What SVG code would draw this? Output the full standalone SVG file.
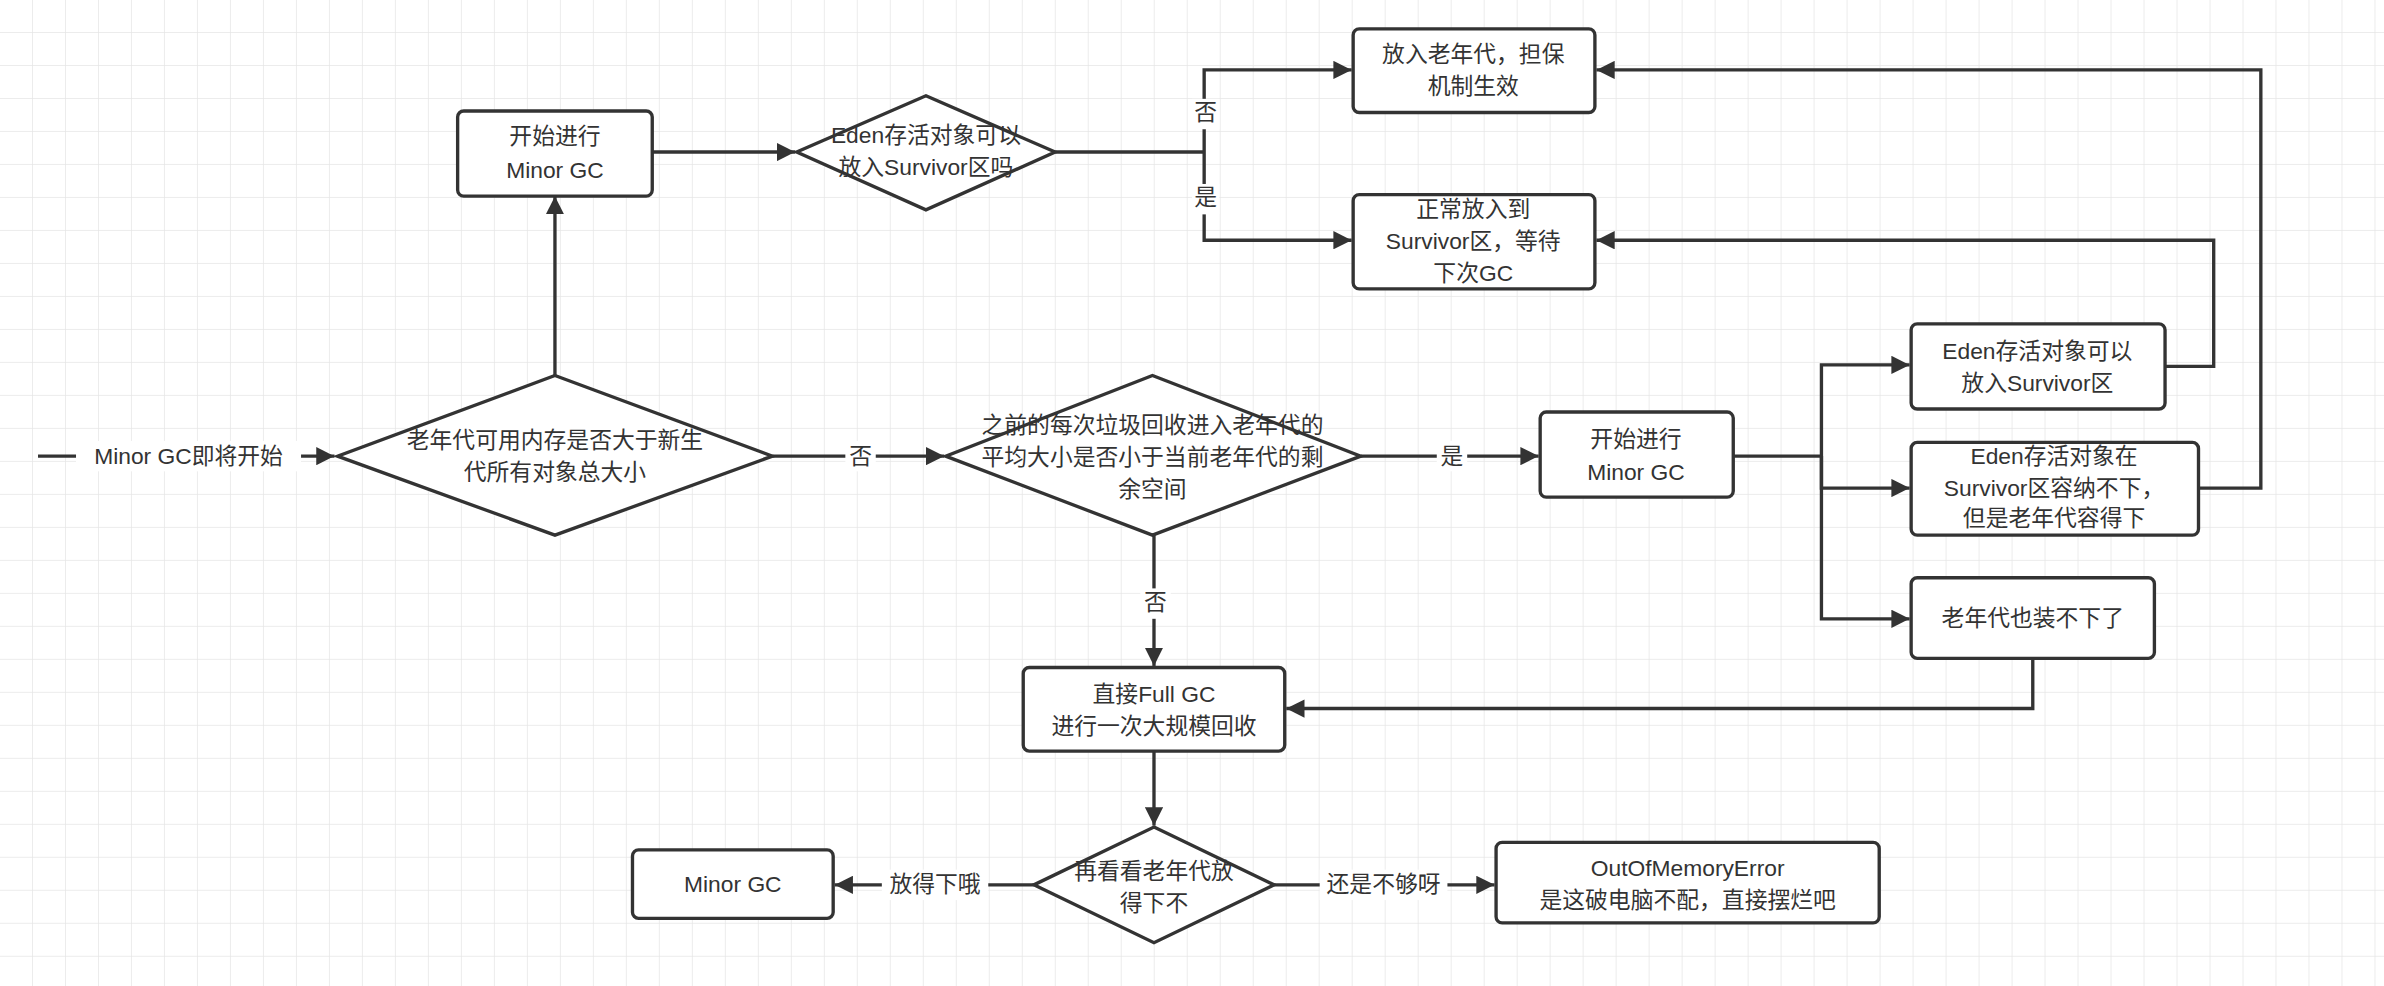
<svg xmlns="http://www.w3.org/2000/svg" width="2384" height="986" viewBox="0 0 2384 986">
<style>
.n{fill:#fff;stroke:#333;stroke-width:2.2}
.c{fill:none;stroke:#333;stroke-width:2.2}
text{font-family:"Liberation Sans","Noto Sans CJK SC",sans-serif;font-size:15px;fill:#333;text-anchor:middle;dominant-baseline:middle}
.lb{fill:#fff}
</style>
<defs>
<pattern id="g" width="21.7" height="21.7" patternUnits="userSpaceOnUse"><path d="M21.7 0V21.7H0" fill="none" stroke="#e6e6e6" stroke-width="1"/></pattern>
<marker id="a" viewBox="0 0 10 10" refX="10" refY="5" markerWidth="12" markerHeight="12" markerUnits="userSpaceOnUse" orient="auto"><path d="M0 0L10 5L0 10z" fill="#333"/></marker>
</defs>
<rect width="2384" height="986" fill="#fff"/>
<g transform="scale(1.5204)">
<rect width="1568" height="649" fill="url(#g)"/>
<g id="connectors">
<path class="c" d="M25 300H220" marker-end="url(#a)"/>
<path class="c" d="M365 247V129" marker-end="url(#a)"/>
<path class="c" d="M429 100H523" marker-end="url(#a)"/>
<path class="c" d="M694 100H792"/>
<path class="c" d="M792 100V46H889" marker-end="url(#a)"/>
<path class="c" d="M792 100V158H889" marker-end="url(#a)"/>
<path class="c" d="M508 300H621" marker-end="url(#a)"/>
<path class="c" d="M895 300H1012" marker-end="url(#a)"/>
<path class="c" d="M1140 300H1198"/>
<path class="c" d="M1198 300V240H1256" marker-end="url(#a)"/>
<path class="c" d="M1198 300V321H1256" marker-end="url(#a)"/>
<path class="c" d="M1198 300V407H1256" marker-end="url(#a)"/>
<path class="c" d="M1424 241H1456V158H1050" marker-end="url(#a)"/>
<path class="c" d="M1446 321H1487V46H1050" marker-end="url(#a)"/>
<path class="c" d="M1337 433V466H846" marker-end="url(#a)"/>
<path class="c" d="M759 352V438" marker-end="url(#a)"/>
<path class="c" d="M759 494V543" marker-end="url(#a)"/>
<path class="c" d="M680 582H549" marker-end="url(#a)"/>
<path class="c" d="M838 582H983" marker-end="url(#a)"/>
<rect class="lb" x="50" y="290" width="148" height="20"/><text x="124" y="301">Minor GC即将开始</text>
<rect class="lb" x="556" y="290" width="20" height="20"/><text x="566" y="301">否</text>
<rect class="lb" x="945" y="290" width="20" height="20"/><text x="955" y="301">是</text>
<rect class="lb" x="784" y="65" width="18" height="20"/><text x="793" y="75">否</text>
<rect class="lb" x="784" y="121" width="18" height="20"/><text x="793" y="131">是</text>
<rect class="lb" x="750" y="387" width="20" height="20"/><text x="760" y="397">否</text>
<rect class="lb" x="580" y="572" width="70" height="20"/><text x="615" y="583">放得下哦</text>
<rect class="lb" x="868" y="572" width="84" height="20"/><text x="910" y="583">还是不够呀</text>
</g>
<g id="d1"><path class="n" d="M365 247L508 300L365 352L222 300z"/><text x="365" y="291">老年代可用内存是否大于新生</text><text x="365" y="312">代所有对象总大小</text></g>
<g id="b1"><rect class="n" x="301" y="73" width="128" height="56" rx="4"/><text x="365" y="91">开始进行</text><text x="365" y="113">Minor GC</text></g>
<g id="d2"><path class="n" d="M609 63L694 100L609 138L524 100z"/><text x="609" y="90">Eden存活对象可以</text><text x="609" y="111">放入Survivor区吗</text></g>
<g id="b2"><rect class="n" x="890" y="19" width="159" height="55" rx="4"/><text x="969" y="37">放入老年代，担保</text><text x="969" y="58">机制生效</text></g>
<g id="b3"><rect class="n" x="890" y="128" width="159" height="62" rx="4"/><text x="969" y="139">正常放入到</text><text x="969" y="160">Survivor区，等待</text><text x="969" y="181">下次GC</text></g>
<g id="d3"><path class="n" d="M758 247L895 300L758 352L622 300z"/><text x="758" y="281">之前的每次垃圾回收进入老年代的</text><text x="758" y="302">平均大小是否小于当前老年代的剩</text><text x="758" y="323">余空间</text></g>
<g id="b4"><rect class="n" x="1013" y="271" width="127" height="56" rx="4"/><text x="1076" y="290">开始进行</text><text x="1076" y="312">Minor GC</text></g>
<g id="b5"><rect class="n" x="1257" y="213" width="167" height="56" rx="4"/><text x="1340" y="232">Eden存活对象可以</text><text x="1340" y="253">放入Survivor区</text></g>
<g id="b6"><rect class="n" x="1257" y="291" width="189" height="61" rx="4"/><text x="1351" y="301">Eden存活对象在</text><text x="1351" y="322">Survivor区容纳不下，</text><text x="1351" y="342">但是老年代容得下</text></g>
<g id="b7"><rect class="n" x="1257" y="380" width="160" height="53" rx="4"/><text x="1337" y="408">老年代也装不下了</text></g>
<g id="b8"><rect class="n" x="673" y="439" width="172" height="55" rx="4"/><text x="759" y="458">直接Full GC</text><text x="759" y="479">进行一次大规模回收</text></g>
<g id="d4"><path class="n" d="M759 544L838 582L759 620L680 582z"/><text x="759" y="574">再看看老年代放</text><text x="759" y="595">得下不</text></g>
<g id="b9"><rect class="n" x="416" y="559" width="132" height="45" rx="4"/><text x="482" y="583">Minor GC</text></g>
<g id="b10"><rect class="n" x="984" y="554" width="252" height="53" rx="4"/><text x="1110" y="572">OutOfMemoryError</text><text x="1110" y="593">是这破电脑不配，直接摆烂吧</text></g>
</g>
</svg>
